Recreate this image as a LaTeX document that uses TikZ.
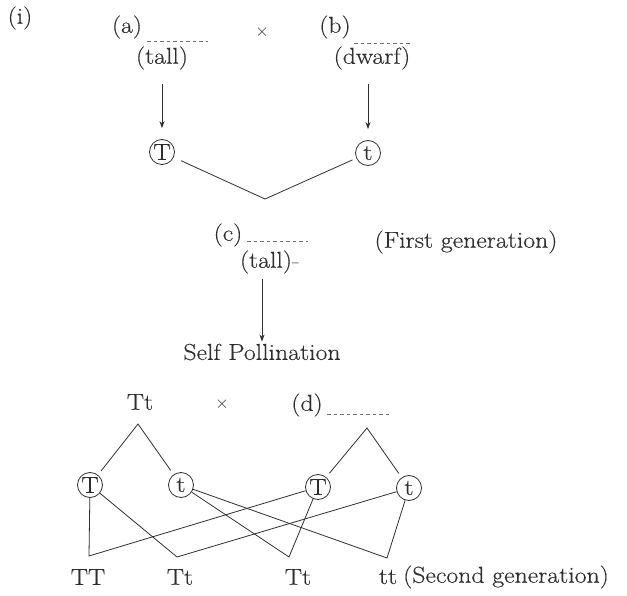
\documentclass[tikz,border=0pt]{standalone}
\usepackage{fontspec}
\setmainfont{Latin Modern Roman}[FakeStretch=1.12,FakeBold=0.4]
\usetikzlibrary{arrows.meta}
\definecolor{ink}{gray}{0.18}
\begin{document}
\begin{tikzpicture}[x=1pt,y=-1pt,
  every node/.style={font=\fontsize{23}{27}\selectfont, text=ink, inner sep=1pt},
  ln/.style={draw=ink, line width=0.8pt},
  arr/.style={ln, -{Stealth[length=7pt,width=5pt]}},
  blank/.style={draw=ink!70, line width=0.7pt, dash pattern=on 3.5pt off 3pt},
  circ/.style={circle, draw=ink, line width=0.8pt, minimum size=25pt, inner sep=0pt},
  cross/.style={font=\fontsize{16}{18}\selectfont}]
\useasboundingbox (0,0) rectangle (627,596);

% top
\node (i) at (20,18) {(i)};
\node (a) at (127,27) {(a)};
\draw[blank] (147,41) -- (208,41);
\node[cross] (x1) at (262,32) {$\times$};
\node (b) at (335,27) {(b)};
\draw[blank] (354,43) -- (412,43);
\node (tallA) at (162,58) {(tall)};
\node (dwarf) at (372,58) {(dwarf)};
\node[circ] (T0) at (162,152) {T};
\node[circ] (t0) at (368,153) {t};
\draw[arr, shorten <=13pt, shorten >=11pt] (tallA) -- (T0);
\draw[arr, shorten <=13pt, shorten >=11pt] (dwarf.south -| t0) -- (t0);
\coordinate (v) at (265,199);
\draw[ln, shorten <=8pt, shorten >=4pt] (T0) -- (v) -- (t0);

% middle
\node (c) at (228,235) {(c)};
\draw[blank] (247,241) -- (308,241);
\node (first) at (466,242) {(First generation)};
\node (tallC) at (266,262) {(tall)\rlap{\textcolor{ink!50}{-}}};
\node (selfp) at (262,352) {Self Pollination};
\draw[arr, shorten <=4pt, shorten >=1pt] (tallC.south -| selfp) -- (selfp);

% bottom
\node (Tt) at (140,402) {Tt};
\node[cross] (x2) at (222,404) {$\times$};
\node (d) at (307,405) {(d)};
\draw[blank] (327,414) -- (390,414);
\coordinate (apL) at (138,424);
\coordinate (apR) at (367,428);
\node[circ] (T1) at (90,485) {T};
\node[circ] (t1) at (181,485) {t};
\node[circ] (T2) at (318,487) {T};
\node[circ] (t2) at (409,488) {t};
\draw[ln, shorten <=5pt, shorten >=5pt] (T1) -- (apL) -- (t1);
\draw[ln, shorten <=5pt, shorten >=5pt] (T2) -- (apR) -- (t2);

\node (lTT) at (88,577) {TT};
\node (lTt1) at (180,577) {Tt};
\node (lTt2) at (298,577) {Tt};
\node (ltt) at (388,577) {tt};
\node[anchor=west] (second) at (402,577) {(Second generation)};
\coordinate (jTT) at (89,556);
\coordinate (jTt1) at (177,557);
\coordinate (jTt2) at (289,557);
\coordinate (jtt) at (387,558);
\draw[ln] (T1) -- (jTT) -- (T2);
\draw[ln] (T1) -- (jTt1) -- (t2);
\draw[ln] (t1) -- (jTt2) -- (T2);
\draw[ln] (t1) -- (jtt) -- (t2);
\end{tikzpicture}
\end{document}
